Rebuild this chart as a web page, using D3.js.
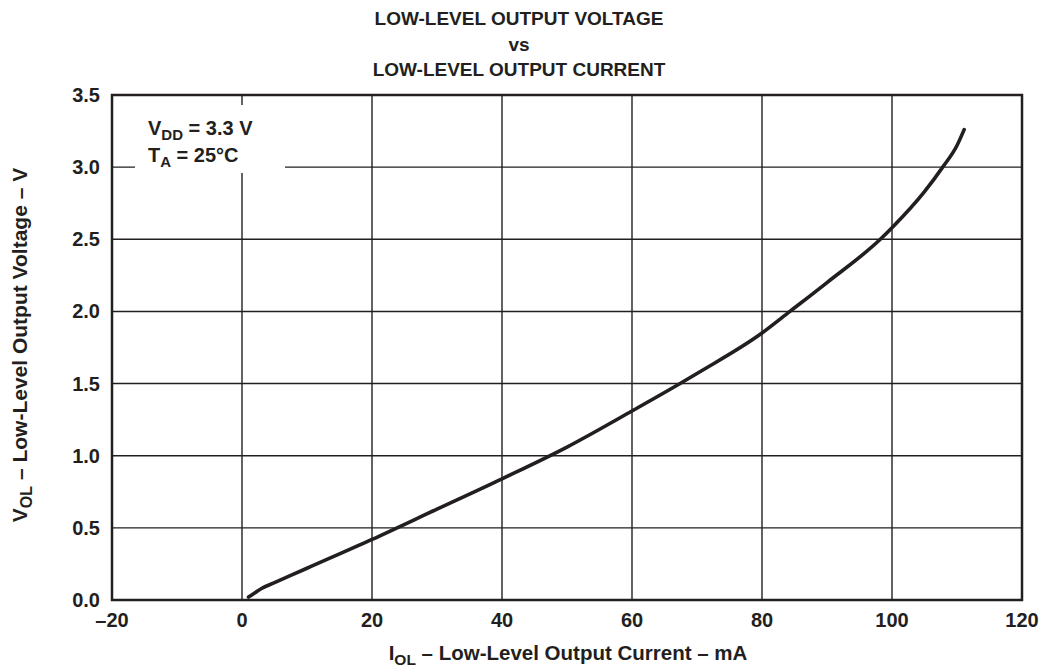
<!DOCTYPE html>
<html>
<head>
<meta charset="utf-8">
<script src="https://cdn.jsdelivr.net/npm/d3@7"></script>
<style>
  body { margin: 0; background: #fff; }
  svg { font-family: 'Liberation Sans', Arial, sans-serif; font-weight: bold; }
</style>
</head>
<body>
<svg></svg>
<script>
const w = 1043;
const h = 670;

// curve (mA, V)
const current = [1, 2, 3, 5, 10, 20, 30, 40, 50, 60, 67.4, 70, 80, 84.3, 90, 98.2, 100, 105, 107.8, 110, 111.1];
const voltage = [0.02, 0.05, 0.08, 0.12, 0.22, 0.42, 0.63, 0.84, 1.06, 1.31, 1.5, 1.57, 1.85, 2.0, 2.2, 2.5, 2.58, 2.83, 3.0, 3.15, 3.26];

const xTicks = [-20, 0, 20, 40, 60, 80, 100, 120];
const yTicks = [0, 0.5, 1.0, 1.5, 2.0, 2.5, 3.0, 3.5];

const m = { left: 112, right: 1022, top: 95, bottom: 600 };
const ink = '#231f20';

const svg = d3.select('svg').attr('width', w).attr('height', h);

const x = d3.scaleLinear().domain([-20, 120]).range([m.left, m.right]);
const y = d3.scaleLinear().domain([0, 3.5]).range([m.bottom, m.top]);

// grid
svg.selectAll('.vgrid')
  .data(xTicks.slice(1, -1))
  .enter()
  .append('line')
  .attr('x1', d => x(d)).attr('x2', d => x(d))
  .attr('y1', m.top).attr('y2', m.bottom)
  .attr('stroke', ink).attr('stroke-width', 1.4);

svg.selectAll('.hgrid')
  .data(yTicks.slice(1, -1))
  .enter()
  .append('line')
  .attr('x1', m.left).attr('x2', m.right)
  .attr('y1', d => y(d)).attr('y2', d => y(d))
  .attr('stroke', ink).attr('stroke-width', 1.4);

// white box behind the conditions text
svg.append('rect')
  .attr('x', 135).attr('y', 105)
  .attr('width', 150).attr('height', 68)
  .attr('fill', '#fff');

// frame
svg.append('rect')
  .attr('x', m.left).attr('y', m.top)
  .attr('width', m.right - m.left).attr('height', m.bottom - m.top)
  .attr('fill', 'none').attr('stroke', ink).attr('stroke-width', 2.5);

// curve
const pts = current.map((c, i) => [c, voltage[i]]);
const line = d3.line()
  .x(d => x(d[0]))
  .y(d => y(d[1]))
  .curve(d3.curveMonotoneX);

svg.append('path')
  .attr('d', line(pts))
  .attr('fill', 'none')
  .attr('stroke', ink)
  .attr('stroke-width', 3.6)
  .attr('stroke-linecap', 'round');

// tick labels
svg.selectAll('.xlab')
  .data(xTicks)
  .enter()
  .append('text')
  .attr('x', d => x(d))
  .attr('y', 627)
  .attr('text-anchor', 'middle')
  .attr('font-size', 20)
  .attr('fill', ink)
  .text(d => d < 0 ? '\u2013' + Math.abs(d) : d);

svg.selectAll('.ylab')
  .data(yTicks)
  .enter()
  .append('text')
  .attr('x', 100)
  .attr('y', d => y(d) + 7)
  .attr('text-anchor', 'end')
  .attr('font-size', 20)
  .attr('fill', ink)
  .text(d => d.toFixed(1));

// title
const title = ['LOW-LEVEL OUTPUT VOLTAGE', 'vs', 'LOW-LEVEL OUTPUT CURRENT'];
svg.selectAll('.title')
  .data(title)
  .enter()
  .append('text')
  .attr('x', 519)
  .attr('y', (d, i) => 25 + i * 25.5)
  .attr('text-anchor', 'middle')
  .attr('font-size', 19)
  .attr('fill', ink)
  .text(d => d);

// conditions
const cond = svg.append('text').attr('font-size', 20).attr('fill', ink);
cond.append('tspan').attr('x', 148).attr('y', 135).text('V');
cond.append('tspan').attr('font-size', 15).attr('dy', 5).text('DD');
cond.append('tspan').attr('dy', -5).text(' = 3.3 V');

const cond2 = svg.append('text').attr('font-size', 20).attr('fill', ink);
cond2.append('tspan').attr('x', 148).attr('y', 162).text('T');
cond2.append('tspan').attr('font-size', 15).attr('dy', 5).text('A');
cond2.append('tspan').attr('dy', -5).text(' = 25\u00b0C');

// axis titles
const xt = svg.append('text')
  .attr('x', 568).attr('y', 660)
  .attr('text-anchor', 'middle')
  .attr('font-size', 20.5)
  .attr('fill', ink);
xt.append('tspan').text('I');
xt.append('tspan').attr('font-size', 15.5).attr('dy', 5).text('OL');
xt.append('tspan').attr('dy', -5).text(' \u2013 Low-Level Output Current \u2013 mA');

const yt = svg.append('text')
  .attr('transform', 'translate(27,345) rotate(-90)')
  .attr('text-anchor', 'middle')
  .attr('font-size', 21)
  .attr('fill', ink);
yt.append('tspan').text('V');
yt.append('tspan').attr('font-size', 16).attr('dy', 5).text('OL');
yt.append('tspan').attr('dy', -5).text(' \u2013 Low-Level Output Voltage \u2013 V');
</script>
</body>
</html>
